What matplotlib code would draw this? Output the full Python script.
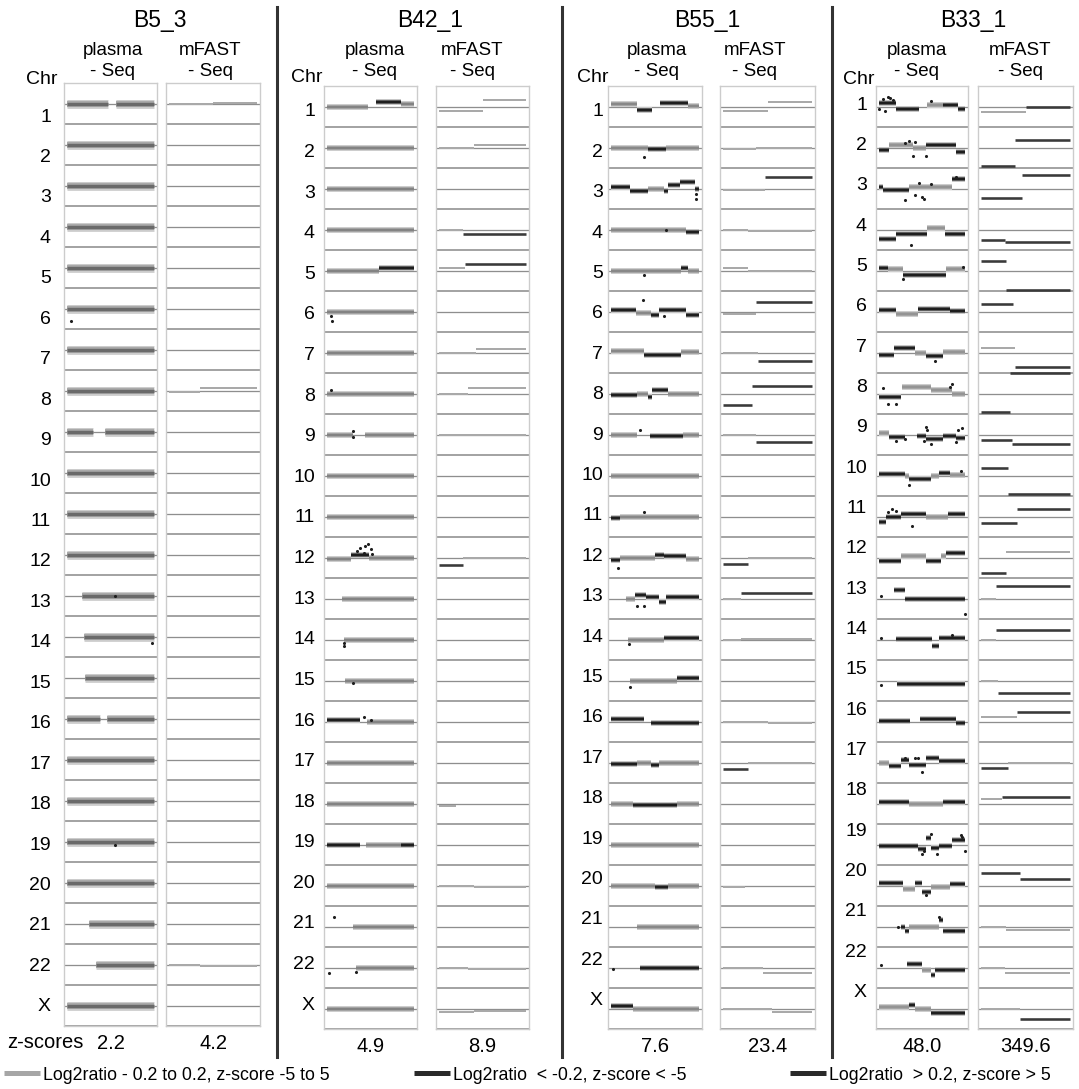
import matplotlib
matplotlib.use('Agg')
import matplotlib.pyplot as plt
from matplotlib.lines import Line2D

plt.rcParams['font.family'] = ['Liberation Sans', 'DejaVu Sans']

W, H = 1079, 1089
fig = plt.figure(figsize=(W / 100, H / 100), dpi=100)

# ---------------- data ----------------
chromosomes = [str(i) for i in range(1, 23)] + ['X']
samples = ['B5_3', 'B42_1', 'B55_1', 'B33_1']
zscore_plasma = ['2.2', '4.9', '7.6', '48.0']
zscore_mfast = ['4.2', '8.9', '23.4', '349.6']

# covered part of each chromosome (fraction of its length); others: whole
arm_spans = {'1': [(0, 0.47), (0.56, 1)], '9': [(0, 0.3), (0.44, 1)],
             '13': [(0.17, 1)], '14': [(0.19, 1)], '15': [(0.21, 1)],
             '16': [(0, 0.38), (0.46, 1)], '21': [(0.25, 1)], '22': [(0.33, 1)]}

# plasma-Seq segments: chromosome -> (start, end, log2ratio, significant)
B5_3_plasma = {}
B42_1_plasma = {
    '1': [(0, 0.47, -0.03, 0), (0.56, 0.85, 0.2, 1), (0.85, 1, 0.1, 0)],
    '5': [(0, 0.6, 0, 0), (0.6, 1, 0.1, 1)],
    '12': [(0, 0.28, -0.05, 0), (0.28, 0.48, 0.1, 1), (0.48, 1, 0, 0)],
    '16': [(0, 0.38, 0.08, 1), (0.46, 1, -0.04, 0)],
    '19': [(0, 0.38, 0, 1), (0.45, 0.85, 0, 0), (0.85, 1, 0, 1)],
    '21': [(0.3, 1, 0, 0)],
}
B55_1_plasma = {
    '1': [(0, 0.3, 0.12, 0), (0.3, 0.48, -0.15, 1), (0.56, 0.88, 0.15, 1), (0.88, 1, 0.02, 0)],
    '2': [(0, 0.42, 0, 0), (0.42, 0.63, -0.08, 1), (0.63, 1, 0, 0)],
    '3': [(0, 0.22, 0.05, 1), (0.22, 0.42, -0.12, 1), (0.42, 0.6, 0, 0), (0.6, 0.65, -0.1, 1),
          (0.65, 0.78, 0.15, 1), (0.78, 0.95, 0.3, 1), (0.95, 1, 0.0, 1)],
    '4': [(0, 0.85, 0, 0), (0.85, 1, -0.12, 1)],
    '5': [(0, 0.8, 0, 0), (0.8, 0.88, 0.1, 1), (0.88, 1, 0, 0)],
    '6': [(0, 0.28, 0.05, 1), (0.28, 0.45, -0.05, 0), (0.45, 0.55, -0.15, 1),
          (0.55, 0.85, 0.08, 1), (0.85, 1, -0.15, 1)],
    '7': [(0, 0.38, 0.05, 0), (0.38, 0.8, -0.12, 1), (0.8, 1, 0.03, 0)],
    '8': [(0, 0.3, -0.08, 1), (0.3, 0.42, 0, 0), (0.42, 0.47, -0.15, 1),
          (0.47, 0.65, 0.15, 1), (0.65, 1, 0, 0)],
    '9': [(0, 0.3, 0, 0), (0.44, 0.82, -0.08, 1), (0.82, 1, 0, 0)],
    '11': [(0, 0.1, -0.08, 1), (0.1, 1, 0, 0)],
    '12': [(0, 0.1, -0.12, 1), (0.1, 0.5, 0, 0), (0.5, 0.6, 0.1, 1), (0.6, 0.85, 0.05, 1),
           (0.85, 1, -0.08, 0)],
    '13': [(0.17, 0.27, 0, 0), (0.27, 0.4, 0.15, 1), (0.4, 0.55, 0.05, 1), (0.55, 0.62, -0.15, 1),
           (0.62, 0.85, 0.08, 1), (0.85, 1, 0.05, 1)],
    '14': [(0.19, 0.6, 0, 0), (0.6, 1, 0.05, 1)],
    '15': [(0.21, 0.75, 0, 0), (0.75, 1, 0.1, 1)],
    '16': [(0, 0.38, 0.1, 1), (0.46, 1, -0.08, 1)],
    '17': [(0, 0.3, -0.05, 1), (0.3, 0.45, 0, 0), (0.45, 0.55, -0.1, 1), (0.55, 1, 0, 0)],
    '18': [(0, 0.25, 0, 0), (0.25, 0.75, -0.05, 1), (0.75, 1, 0, 0)],
    '20': [(0, 0.5, 0, 0), (0.5, 0.65, -0.05, 1), (0.65, 1, 0, 0)],
    '21': [(0.3, 1, 0, 0)],
    '22': [(0.33, 1, -0.02, 1)],
    'X': [(0, 0.25, 0.1, 1), (0.25, 1, -0.03, 0)],
}
B33_1_plasma = {
    '1': [(0, 0.2, 0.15, 1), (0.2, 0.47, -0.12, 1), (0.56, 0.75, 0.08, 0), (0.75, 0.92, 0.05, 1),
          (0.92, 1, -0.1, 1)],
    '2': [(0, 0.12, -0.1, 1), (0.12, 0.4, 0.1, 0), (0.4, 0.55, -0.03, 0), (0.55, 0.9, 0.1, 1),
          (0.9, 1, -0.2, 1)],
    '3': [(0, 0.05, 0.05, 1), (0.05, 0.35, -0.08, 1), (0.35, 0.55, 0.05, 0), (0.55, 0.85, 0.05, 0),
          (0.85, 1, 0.45, 1)],
    '4': [(0, 0.2, -0.45, 1), (0.2, 0.56, -0.2, 1), (0.56, 0.77, 0.05, 0), (0.77, 1, -0.2, 1)],
    '5': [(0, 0.1, 0.12, 1), (0.1, 0.28, 0.05, 0), (0.28, 0.78, -0.2, 1), (0.78, 1, 0.05, 0)],
    '6': [(0, 0.2, 0.05, 1), (0.2, 0.45, -0.1, 0), (0.45, 0.82, 0.12, 1), (0.82, 1, 0.02, 1)],
    '7': [(0, 0.17, -0.12, 1), (0.17, 0.42, 0.2, 1), (0.42, 0.55, 0, 0), (0.55, 0.75, -0.15, 1),
          (0.75, 1, 0.03, 0)],
    '8': [(0, 0.25, -0.15, 1), (0.27, 0.6, 0.3, 0), (0.6, 0.85, 0.15, 0), (0.85, 1, 0, 0)],
    '9': [(0, 0.12, 0.05, 0), (0.12, 0.3, -0.12, 1), (0.44, 0.55, -0.05, 1), (0.55, 0.75, -0.2, 1),
          (0.75, 0.9, -0.05, 1), (0.9, 1, -0.15, 1)],
    '10': [(0, 0.3, 0.05, 1), (0.3, 0.35, 0, 0), (0.35, 0.6, -0.15, 1), (0.6, 0.7, 0, 0),
           (0.7, 0.82, 0.1, 1), (0.82, 1, 0.02, 0)],
    '11': [(0, 0.08, -0.25, 1), (0.08, 0.25, 0, 1), (0.25, 0.55, 0.12, 1), (0.55, 0.8, -0.03, 0),
           (0.8, 1, 0.12, 1)],
    '12': [(0, 0.25, -0.15, 1), (0.25, 0.55, 0.05, 0), (0.55, 0.72, -0.15, 1), (0.72, 0.78, 0.05, 0),
           (0.78, 1, 0.2, 1)],
    '13': [(0.18, 0.3, 0.4, 1), (0.3, 1, -0.03, 1)],
    '14': [(0.2, 0.62, 0.03, 1), (0.62, 0.7, -0.3, 1), (0.7, 1, 0.05, 1)],
    '15': [(0.2, 1, -0.15, 1)],
    '16': [(0, 0.36, 0.03, 1), (0.48, 0.9, 0.1, 1), (0.9, 1, -0.05, 1)],
    '17': [(0, 0.12, 0, 0), (0.12, 0.25, -0.15, 1), (0.25, 0.35, 0.1, 1), (0.35, 0.55, -0.1, 1),
           (0.55, 0.7, 0.2, 1), (0.7, 1, 0.05, 1)],
    '18': [(0, 0.35, 0.05, 1), (0.35, 0.75, -0.02, 0), (0.75, 1, 0.08, 1)],
    '19': [(0, 0.45, -0.05, 1), (0.45, 0.55, -0.2, 1), (0.55, 0.6, 0.3, 1), (0.6, 0.7, -0.15, 1),
           (0.7, 0.85, -0.05, 1), (0.85, 1, 0.2, 1)],
    '20': [(0, 0.28, 0.1, 1), (0.28, 0.42, -0.15, 0), (0.42, 0.5, 0.1, 1), (0.5, 0.6, -0.3, 1),
           (0.6, 0.82, -0.05, 0), (0.82, 1, 0.05, 1)],
    '21': [(0.25, 0.3, 0, 1), (0.3, 0.35, -0.2, 1), (0.35, 0.7, 0, 0), (0.7, 0.75, 0.3, 1),
           (0.75, 1, -0.2, 1)],
    '22': [(0.3, 0.5, 0.15, 1), (0.5, 0.6, -0.1, 0), (0.6, 0.65, -0.35, 1), (0.65, 1, -0.1, 1)],
    'X': [(0, 0.35, 0.05, 0), (0.35, 0.42, 0.15, 1), (0.42, 0.6, 0, 0), (0.6, 1, -0.2, 1)],
}

# single outlying plasma-Seq bins: (chromosome, position, log2ratio)
B5_3_outliers = [('6', 0.05, -0.6), ('13', 0.55, 0.0), ('14', 0.98, -0.3), ('19', 0.55, -0.15)]
B42_1_outliers = [('6', 0.04, -0.2), ('6', 0.06, -0.45), ('8', 0.04, 0.15), ('9', 0.3, 0.15),
                  ('9', 0.3, -0.1), ('12', 0.35, 0.3), ('12', 0.38, 0.45), ('12', 0.42, 0.2),
                  ('12', 0.44, 0.55), ('12', 0.47, 0.65), ('12', 0.5, 0.4), ('12', 0.52, 0.15),
                  ('14', 0.19, -0.3), ('14', 0.19, -0.15), ('15', 0.3, -0.1), ('16', 0.42, 0.2),
                  ('16', 0.5, 0.05), ('21', 0.08, 0.45), ('22', 0.02, -0.25), ('22', 0.33, -0.2)]
B55_1_outliers = [('2', 0.37, -0.45), ('3', 0.97, -0.25), ('3', 0.97, -0.5), ('4', 0.62, 0),
                  ('5', 0.37, -0.2), ('6', 0.36, 0.55), ('6', 0.6, -0.2), ('9', 0.33, 0.2),
                  ('11', 0.37, 0.2), ('12', 0.08, -0.5), ('13', 0.3, -0.35), ('13', 0.37, -0.35),
                  ('14', 0.2, -0.2), ('15', 0.22, -0.3), ('22', 0.02, -0.05)]
B33_1_outliers = [
    ('1', 0.05, 0.35), ('1', 0.1, 0.45), ('1', 0.13, 0.4), ('1', 0.07, -0.2), ('1', 0.0, -0.1),
    ('1', 0.6, 0.25), ('1', 0.16, 0.3),
    ('2', 0.4, -0.4), ('2', 0.55, -0.4), ('2', 0.35, 0.3), ('2', 0.42, 0.25), ('2', 0.3, 0.2),
    ('3', 0.3, -0.55), ('3', 0.5, -0.4), ('3', 0.52, -0.5), ('3', 0.46, 0.25), ('3', 0.6, 0.2),
    ('3', 0.42, -0.3), ('3', 0.9, 0.55),
    ('4', 0.37, -0.75), ('5', 0.28, -0.4), ('5', 0.98, 0.15), ('7', 0.65, -0.4),
    ('8', 0.1, -0.5), ('8', 0.2, -0.5), ('8', 0.05, 0.25), ('8', 0.85, 0.45), ('8', 0.82, 0.3),
    ('9', 0.55, 0.35), ('9', 0.56, 0.2), ('9', 0.6, -0.45), ('9', 0.52, -0.3), ('9', 0.92, 0.2),
    ('9', 0.96, 0.3), ('9', 0.9, -0.35), ('9', 0.2, -0.3), ('9', 0.3, -0.2),
    ('10', 0.35, -0.45), ('10', 0.95, 0.2),
    ('11', 0.15, 0.35), ('11', 0.2, 0.25), ('11', 0.38, -0.45), ('11', 0.1, 0.2),
    ('13', 0.02, 0.1), ('13', 1.0, -0.75), ('14', 0.02, 0.05), ('14', 0.85, 0.2), ('15', 0.02, -0.2),
    ('17', 0.3, 0.2), ('17', 0.42, 0.2), ('17', 0.5, -0.45), ('17', 0.45, 0.2),
    ('19', 0.5, -0.45), ('19', 0.52, -0.3), ('19', 0.6, 0.5), ('19', 0.68, -0.45), ('19', 0.95, 0.45),
    ('19', 1.0, -0.3), ('19', 0.97, 0.35),
    ('20', 0.55, -0.45), ('21', 0.22, 0), ('21', 0.7, 0.45), ('22', 0.02, 0.1),
]

# mFAST-Seq segments: chromosome -> (start, end, log2ratio, significant)
B5_3_mfast = {'1': [(0, 0.5, 0, 0), (0.5, 1, 0.03, 0)],
              '8': [(0, 0.35, -0.05, 0), (0.35, 1, 0.1, 0)],
              '22': [(0, 0.35, 0, 0), (0.35, 1, -0.05, 0)]}
B42_1_mfast = {
    '1': [(0, 0.5, -0.2, 0), (0.5, 1, 0.3, 0)], '2': [(0, 0.4, 0, 0), (0.4, 1, 0.12, 0)],
    '4': [(0, 0.27, 0, 0), (0.27, 1, -0.2, 1)], '5': [(0, 0.3, 0.1, 0), (0.3, 1, 0.3, 1)],
    '7': [(0, 0.42, 0, 0), (0.42, 1, 0.15, 0)], '8': [(0, 0.33, 0, 0), (0.33, 1, 0.25, 0)],
    '9': [(0, 0.38, 0, 0), (0.38, 1, -0.03, 0)], '12': [(0, 0.28, -0.35, 1), (0.28, 1, 0, 0)],
    '18': [(0, 0.2, -0.1, 0)], '20': [(0, 0.4, 0, 0), (0.4, 1, -0.05, 0)],
    '22': [(0, 0.33, 0, 0), (0.33, 1, -0.05, 0)], 'X': [(0, 0.4, -0.15, 0), (0.4, 1, -0.1, 0)],
}
B55_1_mfast = {
    '1': [(0, 0.5, -0.2, 0), (0.5, 1, 0.2, 0)], '2': [(0, 0.37, -0.05, 0), (0.37, 1, 0, 0)],
    '3': [(0, 0.47, -0.05, 0), (0.47, 1, 0.55, 1)], '4': [(0, 0.28, 0, 0), (0.28, 1, -0.05, 0)],
    '5': [(0, 0.28, 0.1, 0), (0.28, 1, 0, 0)], '6': [(0, 0.37, -0.1, 0), (0.37, 1, 0.45, 1)],
    '7': [(0, 0.39, 0, 0), (0.39, 1, -0.4, 1)], '8': [(0, 0.33, -0.55, 1), (0.33, 1, 0.35, 1)],
    '9': [(0, 0.37, 0, 0), (0.37, 1, -0.35, 1)], '12': [(0, 0.28, -0.3, 1), (0.28, 1, 0, 0)],
    '13': [(0, 0.2, 0, 0), (0.2, 1, 0.25, 1)], '14': [(0, 0.2, 0, 0), (0.2, 1, 0.03, 0)],
    '16': [(0, 0.5, 0, 0), (0.5, 1, -0.05, 0)], '17': [(0, 0.28, -0.3, 1), (0.28, 1, 0, 0)],
    '20': [(0, 0.25, -0.05, 0)], '22': [(0, 0.45, 0, 0), (0.45, 1, -0.25, 0)],
    'X': [(0, 0.55, 0, 0), (0.55, 1, -0.15, 0)],
}
B33_1_mfast = {
    '1': [(0, 0.505, -0.25, 0), (0.505, 1, 0.0, 1)], '2': [(0, 0.38, -0.9, 1), (0.38, 1, 0.35, 1)],
    '3': [(0, 0.46, -0.45, 1), (0.46, 1, 0.65, 1)], '4': [(0, 0.27, -0.5, 1), (0.27, 1, -0.6, 1)],
    '5': [(0, 0.28, 0.45, 1), (0.28, 1, -0.95, 1)], '6': [(0, 0.36, 0.35, 1)],
    '7': [(0, 0.38, 0.2, 0), (0.38, 1, -0.7, 1)], '8': [(0, 0.325, -0.9, 1), (0.325, 1, 1.0, 1)],
    '9': [(0, 0.35, -0.25, 1), (0.35, 1, -0.45, 1)], '10': [(0, 0.3, 0.35, 1), (0.3, 1, -0.9, 1)],
    '11': [(0, 0.405, -0.3, 1), (0.405, 1, 0.35, 1)], '12': [(0, 0.28, -0.75, 1), (0.28, 1, 0.25, 0)],
    '13': [(0, 0.17, 0, 0), (0.17, 1, 0.6, 1)], '14': [(0, 0.17, 0, 0), (0.17, 1, 0.45, 1)],
    '15': [(0, 0.19, 0, 0), (0.19, 1, -0.6, 1)], '16': [(0, 0.405, 0.2, 0), (0.405, 1, 0.45, 1)],
    '17': [(0, 0.3, -0.25, 1), (0.3, 1, 0, 0)], '18': [(0, 0.235, 0.2, 0), (0.235, 1, 0.3, 1)],
    '20': [(0, 0.44, 0.6, 1), (0.44, 1, 0.3, 1)], '21': [(0, 0.28, 0, 0), (0.28, 1, -0.15, 0)],
    '22': [(0, 0.27, 0, 0), (0.27, 1, -0.25, 0)], 'X': [(0, 0.44, 0, 0), (0.44, 1, -0.5, 1)],
}

plasma_data = [B5_3_plasma, B42_1_plasma, B55_1_plasma, B33_1_plasma]
outlier_data = [B5_3_outliers, B42_1_outliers, B55_1_outliers, B33_1_outliers]
mfast_data = [B5_3_mfast, B42_1_mfast, B55_1_mfast, B33_1_mfast]

legend_labels = ['Log2ratio - 0.2 to 0.2, z-score -5 to 5',
                 'Log2ratio  < -0.2, z-score < -5',
                 'Log2ratio  > 0.2, z-score > 5']

# ---------------- layout (pixels) ----------------
plasma_x = [(64, 157), (324, 417), (608, 702), (876, 968)]
mfast_x = [(166, 260), (436, 529), (720, 815), (978, 1073)]
box_top = [83, 86, 86, 86]
box_h = 943
title_x = [160, 430, 707, 973]
head_plasma_x = [113, 375, 657, 917]
head_mfast_x = [210, 472, 755, 1020]
chr_xy = [(42, 79), (307, 77), (593, 77), (859, 79)]
label_right = [51, 315, 603, 867]
label_top = [117, 112, 112, 105]
label_step = [40.45, 40.6, 40.4, 40.35]
dividers = [277, 562, 832]
band_px = [9, 6, 6, 6]
band_gray = ['#6a6a6a', '#838383', '#888888', '#949494']

SCALE = 0.5    # rows per log2 unit
GRID = '#8e8e8e'
FRAME = '#cccccc'
DARK = '#1e1e1e'
PT = 72 / 100  # points per pixel


def fx(px):
    return px / W


def fy(py):
    return 1 - py / H


def make_ax(x0, x1, top):
    ax = fig.add_axes([fx(x0), fy(top + box_h), (x1 - x0) / W, box_h / H])
    ax.set_xlim(-0.035, 1.035)
    ax.set_ylim(len(chromosomes) - 0.5, -0.5)
    ax.set_xticks([])
    ax.set_yticks([])
    for s in ax.spines.values():
        s.set_color(FRAME)
        s.set_linewidth(1.0)
    for i in range(len(chromosomes)):
        ax.axhline(i, color=GRID, lw=1.3 * PT, zorder=1)
        ax.axhline(i + 0.5, color=GRID, lw=1.6 * PT, zorder=1)
    return ax


def clip(name, segs):
    spans = arm_spans.get(name, [(0, 1)])
    for a, b, v, s in segs:
        for lo, hi in spans:
            a2, b2 = max(a, lo), min(b, hi)
            if b2 > a2:
                yield a2, b2, v, s


for p in range(4):
    # plasma-Seq column
    ax = make_ax(*plasma_x[p], box_top[p])
    segs_all = plasma_data[p]
    for i, name in enumerate(chromosomes):
        segs = segs_all.get(name, [(0, 1, 0, 0)])
        for a, b, v, s in clip(name, segs):
            y = i - v * SCALE
            core = DARK if s else band_gray[p]
            mid = '#6a6a6a' if s else '#aaaaaa'
            ax.plot([a, b], [y, y], color='#d2d2d2', lw=band_px[p] * PT,
                    solid_capstyle='butt', zorder=2)
            ax.plot([a, b], [y, y], color=mid, lw=band_px[p] * 0.7 * PT,
                    solid_capstyle='butt', zorder=2)
            ax.plot([a, b], [y, y], color=core, lw=band_px[p] * 0.38 * PT,
                    solid_capstyle='butt', zorder=3)
    ox = [x for c, x, v in outlier_data[p]]
    oy = [chromosomes.index(c) - v * SCALE for c, x, v in outlier_data[p]]
    ax.scatter(ox, oy, s=5, color=DARK, linewidths=0, zorder=4)
    ax.set_xlabel(zscore_plasma[p], fontsize=14.5, labelpad=6)

    # mFAST-Seq column
    axm = make_ax(*mfast_x[p], box_top[p])
    for i, name in enumerate(chromosomes):
        for a, b, v, s in mfast_data[p].get(name, []):
            y = i - v * SCALE
            axm.plot([a, b], [y, y], color='#3a3a3a' if s else '#a9a9a9',
                     lw=(2.6 if s else 2.0) * PT, solid_capstyle='butt', zorder=3)
    axm.set_xlabel(zscore_mfast[p], fontsize=14.5, labelpad=6)

    # texts
    fig.text(fx(title_x[p]), fy(21), samples[p], ha='center', va='center', fontsize=16.5)
    fig.text(fx(head_plasma_x[p]), fy(61), 'plasma\n- Seq', ha='center', va='center',
             fontsize=13.5, linespacing=1.25)
    fig.text(fx(head_mfast_x[p]), fy(61), 'mFAST\n- Seq', ha='center', va='center',
             fontsize=13.5, linespacing=1.25)
    fig.text(fx(chr_xy[p][0]), fy(chr_xy[p][1]), 'Chr', ha='center', va='center', fontsize=14)
    for i, name in enumerate(chromosomes):
        fig.text(fx(label_right[p]), fy(label_top[p] + i * label_step[p]), name,
                 ha='right', va='center', fontsize=14)

fig.text(fx(45), fy(1043), 'z-scores', ha='center', va='center', fontsize=14.5)

for d in dividers:
    fig.add_artist(Line2D([fx(d), fx(d)], [fy(7), fy(1057)], color='#333333', lw=2.2))

# legend
leg_colors = ['#a6a6a6', '#2a2a2a', '#2a2a2a']
leg_x = [4, 414, 790]
for lab, col, lx in zip(legend_labels, leg_colors, leg_x):
    h = Line2D([], [], color=col, lw=5 * PT, solid_capstyle='butt')
    fig.legend([h], [lab], loc='center left', bbox_to_anchor=(fx(lx), fy(1075)),
               frameon=False, fontsize=12.8, handlelength=2.05, handletextpad=0.15,
               borderpad=0, borderaxespad=0)

fig.savefig('out.png', dpi=100)
